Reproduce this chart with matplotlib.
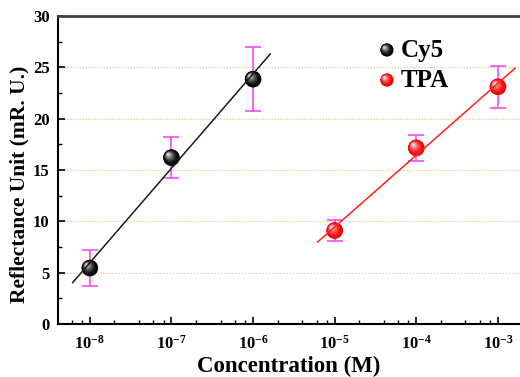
import numpy as np
import matplotlib
matplotlib.use("Agg")
import matplotlib.pyplot as plt
from matplotlib import transforms
from matplotlib.ticker import LogLocator, FixedLocator, MultipleLocator, NullFormatter, FuncFormatter

# ---- data ----
cy5_conc = [1e-8, 1e-7, 1e-6]
cy5_signal = [5.45, 16.2, 23.85]
cy5_err = [1.75, 2.0, 3.1]

tpa_conc = [1e-5, 1e-4, 1e-3]
tpa_signal = [9.1, 17.15, 23.1]
tpa_err = [1.0, 1.3, 2.05]

series_names = ["Cy5", "TPA"]
y_ticks = [0, 5, 10, 15, 20, 25, 30]
x_decades = [-8, -7, -6, -5, -4, -3]

plt.rcParams["font.family"] = ["Liberation Serif", "DejaVu Serif"]
plt.rcParams["font.weight"] = "bold"
plt.rcParams["mathtext.fontset"] = "custom"
plt.rcParams["mathtext.rm"] = "Liberation Serif:bold"
plt.rcParams["mathtext.bf"] = "Liberation Serif:bold"
plt.rcParams["mathtext.it"] = "Liberation Serif:bold"

fig = plt.figure(figsize=(5.2, 3.77), dpi=100)
ax = fig.add_axes([58 / 520, 1 - 324 / 377, 1 - 58 / 520, (324 - 16) / 377])


def mix(c1, c2, t):
    a = np.array(matplotlib.colors.to_rgb(c1))
    b = np.array(matplotlib.colors.to_rgb(c2))
    return tuple(a + (b - a) * t)


def spheres(x, y, base, light, diam_pt, transform, zorder=5):
    """Shaded ball markers: stacked discs shrinking toward an upper-left highlight."""
    n = 14
    R = diam_pt / 2.0
    for i in range(n + 1):
        t = i / n
        r = R * (1 - 0.82 * t)
        dx = -0.38 * R * t
        dy = 0.38 * R * t
        tr = transforms.offset_copy(transform, fig=fig, x=dx, y=dy, units="points")
        col = mix(base, light, t ** 1.8)
        ax.scatter(x, y, s=(2 * r) ** 2, color=col, edgecolors="none",
                   transform=tr, zorder=zorder + i * 0.001, clip_on=False)


# horizontal guide lines
for yv in y_ticks[1:-1]:
    ax.axhline(yv, color="#f7c898", lw=0.9, ls=(0, (1.2, 1.2)), zorder=1)

series = [
    (cy5_conc, cy5_signal, cy5_err, "#000000", "#c8c8c8", "#1a1a1a"),
    (tpa_conc, tpa_signal, tpa_err, "#f00000", "#ffd0d0", "#ff2020"),
]

for conc, sig, err, base, light, linecol in series:
    ax.errorbar(conc, sig, yerr=err, fmt="none", ecolor="#f040f0", elinewidth=1.1,
                capsize=6, capthick=1.1, zorder=3)
    spheres(conc, sig, base, light, 12.0, ax.transData)
    lx = np.log10(conc)
    k, b = np.polyfit(lx, sig, 1)
    xs = np.array([lx.min() - 0.21, lx.max() + 0.21])
    ax.plot(10 ** xs, k * xs + b, color=linecol, lw=1.1, zorder=8)

ax.set_xscale("log")
ax.set_xlim(10 ** -8.39, 10 ** -2.73)
ax.set_ylim(0, 30)

ax.xaxis.set_major_locator(FixedLocator([10.0 ** d for d in x_decades]))
ax.xaxis.set_major_formatter(FuncFormatter(lambda v, p: r"$\mathbf{10^{%d}}$" % round(np.log10(v))))
ax.xaxis.set_minor_locator(LogLocator(base=10, subs=(2, 4, 6, 8), numticks=20))
ax.xaxis.set_minor_formatter(NullFormatter())
ax.yaxis.set_major_locator(FixedLocator(y_ticks))
ax.yaxis.set_minor_locator(MultipleLocator(2.5))

ax.tick_params(axis="both", which="major", direction="in", length=5, width=1.2,
               labelsize=12, pad=6)
ax.tick_params(axis="both", which="minor", direction="in", length=3, width=1.0)
ax.tick_params(axis="x", which="major", labelsize=12, pad=8)
for lab in ax.get_yticklabels():
    lab.set_fontweight("bold")

ax.spines["right"].set_visible(False)
ax.spines["top"].set_linewidth(2.0)
ax.spines["top"].set_color("#444444")
ax.spines["left"].set_linewidth(1.5)
ax.spines["bottom"].set_linewidth(1.5)

ax.set_xlabel("Concentration (M)", fontsize=16.5, fontweight="bold", labelpad=2)
ax.set_ylabel("Reflectance Unit (mR. U.)", fontsize=15.5, fontweight="bold",
              va="center", ha="center")
ax.yaxis.set_label_coords(-0.084, 0.455)

# legend
leg_x, leg_y = 0.712, [0.8896, 0.792]
for (name, (_, _, _, base, light, _)), yy in zip(zip(series_names, series), leg_y):
    spheres([leg_x], [yy], base, light, 9.5, ax.transAxes, zorder=10)
    ax.text(leg_x + 0.03, yy, name, transform=ax.transAxes, fontsize=18,
            fontweight="bold", va="center", ha="left")

fig.savefig("out.png", dpi=100)
